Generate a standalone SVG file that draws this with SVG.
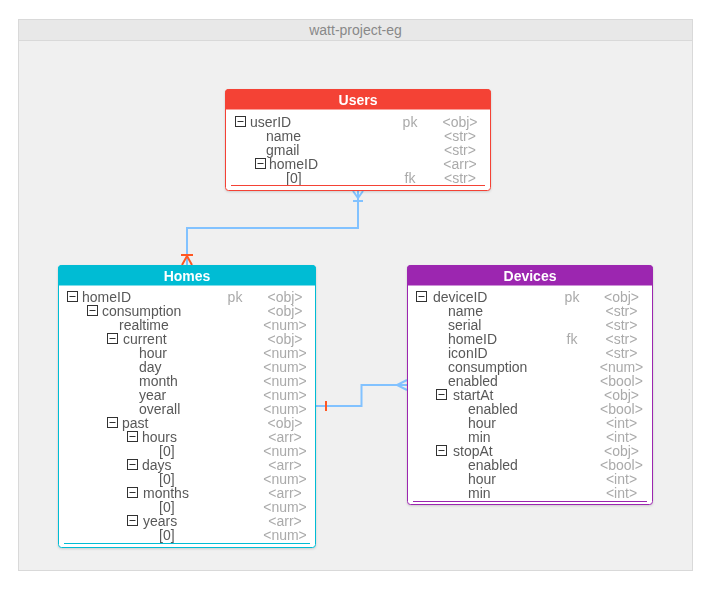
<svg xmlns="http://www.w3.org/2000/svg" width="711" height="589" viewBox="0 0 711 589">
<style>
text{font-family:"Liberation Sans",Arial,sans-serif;font-size:14px}
.f{fill:#595959}
.t{fill:#aaaaaa;text-anchor:middle}
.k{fill:#aaaaaa;text-anchor:middle}
.h{fill:#ffffff;font-weight:bold;text-anchor:middle}
.box{fill:#ffffff}
.ic{fill:#ffffff;stroke:#333333;stroke-width:1}
.edge{fill:none;stroke:#82c2ff;stroke-width:2}
.mk{fill:none;stroke-width:2}
</style>
<defs>
<g id="minus"><rect class="ic" x="0.5" y="0.5" width="10" height="10"/><line x1="2.5" y1="5.5" x2="8.5" y2="5.5" stroke="#333" stroke-width="1"/></g>
<filter id="sh" x="-5%" y="-5%" width="110%" height="110%"><feDropShadow dx="0" dy="1" stdDeviation="1" flood-color="#000" flood-opacity="0.15"/></filter>
</defs>
<rect x="18.5" y="19.5" width="674" height="551" fill="#f0f0f0" stroke="#d9d9d9"/>
<rect x="19" y="20" width="673" height="20" fill="#e8e8e8"/>
<line x1="19" y1="40.5" x2="692" y2="40.5" stroke="#d9d9d9"/>
<text x="355.5" y="35" fill="#888888" font-size="14" text-anchor="middle" style="font-size:14px">watt-project-eg</text>

<g id="connectors">
<path class="edge" d="M358 191 V228 H187 V265"/>
<path class="mk" stroke="#82c2ff" d="M353 191 L358 198 L363 191 M358 191 V199 M353 201 H363"/>
<path class="mk" stroke="#ff5722" d="M181 255 H193 M182 265 L187 256 L192 265"/>
<path class="edge" d="M315 406 H361.5 V385 H407"/>
<path class="mk" stroke="#ff5722" d="M326 401 V411"/>
<path class="mk" stroke="#82c2ff" d="M407 380 L397 385 L407 390"/>
</g>

<g id="users" filter="url(#sh)">
<rect class="box" x="225.5" y="89.5" width="265" height="101" rx="3" stroke="#f44336"/>
<path d="M225.5 109 V92.5 a3 3 0 0 1 3 -3 H487.5 a3 3 0 0 1 3 3 V109 Z" fill="#f44336" stroke="#f44336"/>
<text class="h" x="358" y="105">Users</text>
<use href="#minus" x="235" y="116"/><text class="f" x="250" y="127">userID</text><text class="k" x="410" y="127">pk</text><text class="t" x="460" y="127">&lt;obj&gt;</text>
<text class="f" x="266" y="141">name</text><text class="t" x="460" y="141">&lt;str&gt;</text>
<text class="f" x="266" y="155">gmail</text><text class="t" x="460" y="155">&lt;str&gt;</text>
<use href="#minus" x="255" y="158"/><text class="f" x="269" y="169">homeID</text><text class="t" x="460" y="169">&lt;arr&gt;</text>
<text class="f" x="286" y="183">[0]</text><text class="k" x="410" y="183">fk</text><text class="t" x="460" y="183">&lt;str&gt;</text>
<line x1="231" y1="185.5" x2="485" y2="185.5" stroke="#f44336"/>
</g>

<g id="homes" filter="url(#sh)">
<rect class="box" x="58.5" y="265.5" width="257" height="282" rx="3" stroke="#00bcd4"/>
<path d="M58.5 285 V268.5 a3 3 0 0 1 3 -3 H312.5 a3 3 0 0 1 3 3 V285 Z" fill="#00bcd4" stroke="#00bcd4"/>
<text class="h" x="187" y="281">Homes</text>
<use href="#minus" x="67" y="291"/><text class="f" x="82" y="302">homeID</text><text class="k" x="235" y="302">pk</text><text class="t" x="285" y="302">&lt;obj&gt;</text>
<use href="#minus" x="87" y="305"/><text class="f" x="102" y="316">consumption</text><text class="t" x="285" y="316">&lt;obj&gt;</text>
<text class="f" x="119" y="330">realtime</text><text class="t" x="285" y="330">&lt;num&gt;</text>
<use href="#minus" x="107" y="333"/><text class="f" x="123" y="344">current</text><text class="t" x="285" y="344">&lt;obj&gt;</text>
<text class="f" x="139" y="358">hour</text><text class="t" x="285" y="358">&lt;num&gt;</text>
<text class="f" x="139" y="372">day</text><text class="t" x="285" y="372">&lt;num&gt;</text>
<text class="f" x="139" y="386">month</text><text class="t" x="285" y="386">&lt;num&gt;</text>
<text class="f" x="139" y="400">year</text><text class="t" x="285" y="400">&lt;num&gt;</text>
<text class="f" x="139" y="414">overall</text><text class="t" x="285" y="414">&lt;num&gt;</text>
<use href="#minus" x="107" y="417"/><text class="f" x="122" y="428">past</text><text class="t" x="285" y="428">&lt;obj&gt;</text>
<use href="#minus" x="127" y="431"/><text class="f" x="142" y="442">hours</text><text class="t" x="285" y="442">&lt;arr&gt;</text>
<text class="f" x="159" y="456">[0]</text><text class="t" x="285" y="456">&lt;num&gt;</text>
<use href="#minus" x="127" y="459"/><text class="f" x="142" y="470">days</text><text class="t" x="285" y="470">&lt;arr&gt;</text>
<text class="f" x="159" y="484">[0]</text><text class="t" x="285" y="484">&lt;num&gt;</text>
<use href="#minus" x="127" y="487"/><text class="f" x="143" y="498">months</text><text class="t" x="285" y="498">&lt;arr&gt;</text>
<text class="f" x="159" y="512">[0]</text><text class="t" x="285" y="512">&lt;num&gt;</text>
<use href="#minus" x="127" y="515"/><text class="f" x="143" y="526">years</text><text class="t" x="285" y="526">&lt;arr&gt;</text>
<text class="f" x="159" y="540">[0]</text><text class="t" x="285" y="540">&lt;num&gt;</text>
<line x1="64" y1="543.5" x2="310" y2="543.5" stroke="#00bcd4"/>
</g>

<g id="devices" filter="url(#sh)">
<rect class="box" x="407.5" y="265.5" width="245" height="239" rx="3" stroke="#9c27b0"/>
<path d="M407.5 285 V268.5 a3 3 0 0 1 3 -3 H649.5 a3 3 0 0 1 3 3 V285 Z" fill="#9c27b0" stroke="#9c27b0"/>
<text class="h" x="530" y="281">Devices</text>
<use href="#minus" x="416" y="291"/><text class="f" x="433" y="302">deviceID</text><text class="k" x="572" y="302">pk</text><text class="t" x="621.5" y="302">&lt;obj&gt;</text>
<text class="f" x="448" y="316">name</text><text class="t" x="621.5" y="316">&lt;str&gt;</text>
<text class="f" x="448" y="330">serial</text><text class="t" x="621.5" y="330">&lt;str&gt;</text>
<text class="f" x="448" y="344">homeID</text><text class="k" x="572" y="344">fk</text><text class="t" x="621.5" y="344">&lt;str&gt;</text>
<text class="f" x="448" y="358">iconID</text><text class="t" x="621.5" y="358">&lt;str&gt;</text>
<text class="f" x="448" y="372">consumption</text><text class="t" x="621.5" y="372">&lt;num&gt;</text>
<text class="f" x="448" y="386">enabled</text><text class="t" x="621.5" y="386">&lt;bool&gt;</text>
<use href="#minus" x="436" y="389"/><text class="f" x="453" y="400">startAt</text><text class="t" x="621.5" y="400">&lt;obj&gt;</text>
<text class="f" x="468" y="414">enabled</text><text class="t" x="621.5" y="414">&lt;bool&gt;</text>
<text class="f" x="468" y="428">hour</text><text class="t" x="621.5" y="428">&lt;int&gt;</text>
<text class="f" x="468" y="442">min</text><text class="t" x="621.5" y="442">&lt;int&gt;</text>
<use href="#minus" x="436" y="445"/><text class="f" x="453" y="456">stopAt</text><text class="t" x="621.5" y="456">&lt;obj&gt;</text>
<text class="f" x="468" y="470">enabled</text><text class="t" x="621.5" y="470">&lt;bool&gt;</text>
<text class="f" x="468" y="484">hour</text><text class="t" x="621.5" y="484">&lt;int&gt;</text>
<text class="f" x="468" y="498">min</text><text class="t" x="621.5" y="498">&lt;int&gt;</text>
<line x1="413" y1="501.5" x2="647" y2="501.5" stroke="#9c27b0"/>
</g>
</svg>
